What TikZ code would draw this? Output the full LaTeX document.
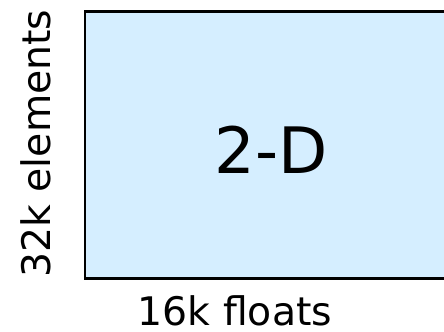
\documentclass[tikz,border=0pt]{standalone}
\usepackage{fontspec}
\setmainfont{DejaVu Sans}
\definecolor{boxfill}{RGB}{213,238,255}
\begin{document}
\begin{tikzpicture}[x=0.75pt,y=-0.75pt,
  lbl/.style={inner sep=0pt, font=\fontsize{29.5}{32}\selectfont}]
\useasboundingbox (0,0) rectangle (444,332);
\node[draw=black, line width=2.2pt, fill=boxfill, minimum width=370pt*0.75, minimum height=266.5pt*0.75, inner sep=0pt] (box) at (270,145) {};
\node[font=\fontsize{48}{52}\selectfont, inner sep=0pt] (t) at (271,150) {2-D};
\node[lbl, rotate=90] (ylab) at (36,143.5) {32k elements};
\node[lbl] (xlab) at (235,311) {16k floats};
\end{tikzpicture}
\end{document}
